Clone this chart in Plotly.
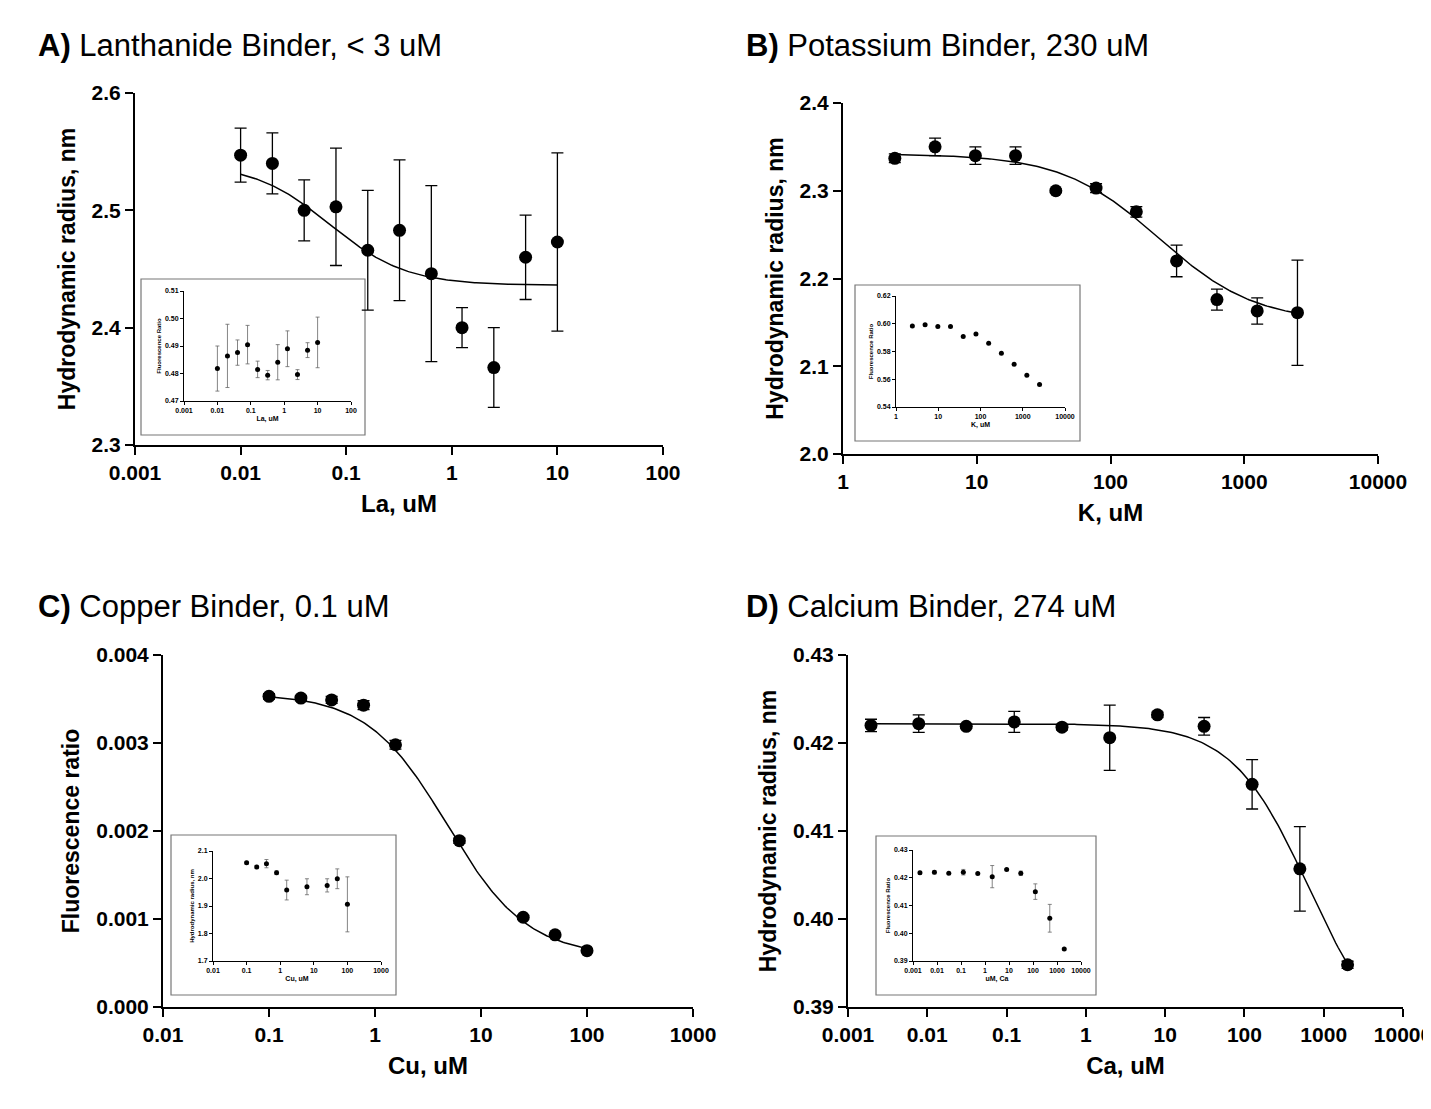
import numpy as np
import plotly.graph_objects as go

W, H = 1431, 1109

# ---- panel A: lanthanide ----
la_x = [0.01, 0.02, 0.04, 0.08, 0.16, 0.32, 0.64, 1.25, 2.5, 5, 10]
la_rh = [2.547, 2.540, 2.500, 2.503, 2.466, 2.483, 2.446, 2.400, 2.366, 2.460, 2.473]
la_rh_err = [0.023, 0.026, 0.026, 0.050, 0.051, 0.060, 0.075, 0.017, 0.034, 0.036, 0.076]
la_fr = [0.4818, 0.4864, 0.4876, 0.4905, 0.4815, 0.4794, 0.4841, 0.4890, 0.4796, 0.4885, 0.4913]
la_fr_err = [0.0082, 0.0115, 0.0046, 0.0070, 0.0030, 0.0017, 0.0064, 0.0065, 0.0018, 0.0027, 0.0092]
la_fit = dict(top=2.540, bottom=2.436, ec50=0.07, hill=1.2)

# ---- panel B: potassium ----
k_x = [2.44, 4.88, 9.77, 19.5, 39, 78, 156, 312, 625, 1250, 2500]
k_rh = [2.337, 2.350, 2.340, 2.340, 2.300, 2.303, 2.276, 2.220, 2.176, 2.163, 2.161]
k_rh_err = [0.005, 0.010, 0.010, 0.010, 0.002, 0.005, 0.006, 0.018, 0.012, 0.015, 0.060]
k_fr = [0.5984, 0.5992, 0.5980, 0.5980, 0.5908, 0.5927, 0.5860, 0.5788, 0.5709, 0.5628, 0.5563]
k_fit = dict(top=2.342, bottom=2.150, ec50=230, hill=1.2)

# ---- panel C: copper ----
cu_x = [0.1, 0.2, 0.39, 0.78, 1.56, 6.25, 25, 50, 100]
cu_fr = [0.00353, 0.00351, 0.00349, 0.00343, 0.00298, 0.00189, 0.00102, 0.00082, 0.00064]
cu_fr_err = [0.00003, 0.00003, 0.00004, 0.00005, 0.00005, 0.00003, 0.00002, 0.00002, 0.00002]
cu_rh = [2.0576, 2.0418, 2.054, 2.0212, 1.958, 1.970, 1.975, 1.999, 1.906]
cu_rh_err = [0.005, 0.006, 0.015, 0.007, 0.036, 0.029, 0.024, 0.036, 0.100]
cu_fit = dict(top=0.00356, bottom=0.00058, ec50=4.8, hill=1.15)

# ---- panel D: calcium ----
ca_x = [0.00195, 0.0078, 0.031, 0.125, 0.5, 2, 8, 31, 125, 500, 2000]
ca_rh = [0.4220, 0.4222, 0.4219, 0.4224, 0.4218, 0.4206, 0.4232, 0.4219, 0.4153, 0.4057, 0.3948]
ca_rh_err = [0.0007, 0.0010, 0.0002, 0.0012, 0.0003, 0.0037, 0.0003, 0.0010, 0.0028, 0.0048, 0.0004]
ca_fr = [0.4218, 0.4220, 0.4216, 0.4220, 0.4215, 0.4204, 0.4230, 0.4216, 0.4150, 0.4054, 0.3943]
ca_fr_err = [0.0005, 0.0006, 0.0003, 0.0010, 0.0003, 0.0040, 0.0003, 0.0008, 0.0028, 0.0050, 0.0003]
ca_fit = dict(top=0.4222, bottom=0.385, ec50=645, hill=0.9)

FONT = "Liberation Sans, Arial, sans-serif"


def px(x0, x1, y0, y1):
    # pixel box -> paper domains
    return [x0 / W, x1 / W], [1 - y1 / H, 1 - y0 / H]


def hill(x, p):
    x = np.asarray(x, dtype=float)
    return p["bottom"] + (p["top"] - p["bottom"]) / (1 + (x / p["ec50"]) ** p["hill"])


fig = go.Figure()
layout = {}


def log_ticks(lo, hi):
    vals = [10.0 ** e for e in range(lo, hi + 1)]
    txt = [("%g" % v) if v >= 1 else ("%." + str(-e) + "f") % v for v, e in zip(vals, range(lo, hi + 1))]
    return vals, txt


def add_panel(n, xs, ys, err, fit, box, xlim, ylim, ydt, yfmt, xtitle, ytitle, inset=False):
    xd, yd = px(*box)
    xa, ya = ("x%d" % n if n > 1 else "x"), ("y%d" % n if n > 1 else "y")
    big = not inset
    ms = 13 if big else 5
    fig.add_trace(go.Scatter(
        x=xs, y=ys, mode="markers", xaxis=xa, yaxis=ya, showlegend=False,
        marker=dict(color="black", size=ms),
        error_y=dict(type="data", array=err, visible=err is not None, color="black" if big else "#666",
                     thickness=1.3 if big else 0.8, width=6 if big else 2),
    ))
    if fit is not None:
        cx = np.logspace(np.log10(xs[0]), np.log10(xs[-1]), 200)
        fig.add_trace(go.Scatter(x=cx, y=hill(cx, fit), mode="lines", xaxis=xa, yaxis=ya, showlegend=False,
                                 line=dict(color="black", width=1.5)))
    tv, tt = log_ticks(*xlim)
    fs = 21 if big else 7
    common = dict(showline=True, linecolor="black", linewidth=2 if big else 1, ticks="outside",
                  ticklen=8 if big else 3, tickwidth=2 if big else 1, tickcolor="black", automargin=False,
                  showgrid=False, zeroline=False, tickfont=dict(size=fs, family=FONT, color="black"))
    layout["xaxis%d" % n if n > 1 else "xaxis"] = dict(
        domain=xd, anchor=ya, type="log", range=[xlim[0], xlim[1]], tickvals=tv,
        ticktext=["<b>%s</b>" % t for t in tt],
        title=dict(text="<b>%s</b>" % xtitle, font=dict(size=24 if big else 7, family=FONT, color="black"),
                   standoff=12 if big else 2), **common)
    yv = list(np.round(np.arange(ylim[0], ylim[1] + ydt / 2, ydt), 6))
    layout["yaxis%d" % n if n > 1 else "yaxis"] = dict(
        domain=yd, anchor=xa, range=ylim, tickvals=yv, ticktext=["<b>%s</b>" % (yfmt % v) for v in yv],
        title=dict(text="<b>%s</b>" % ytitle, font=dict(size=23 if big else 6, family=FONT, color="black"),
                   standoff=10 if big else 2), **common)


add_panel(1, la_x, la_rh, la_rh_err, la_fit, (127, 655, 85, 437), (-3, 2), [2.3, 2.6], 0.1, "%.1f",
          "La, uM", "Hydrodynamic radius, nm")
add_panel(2, la_x, la_fr, la_fr_err, None, (176, 343, 283, 393), (-3, 2), [0.47, 0.51], 0.01, "%.2f",
          "La, uM", "Fluorescence Ratio", inset=True)
add_panel(3, k_x, k_rh, k_rh_err, k_fit, (835, 1370, 95, 446), (0, 4), [2.0, 2.4], 0.1, "%.1f",
          "K, uM", "Hydrodynamic radius, nm")
add_panel(4, k_x, k_fr, None, None, (888, 1057, 288, 399), (0, 4), [0.54, 0.62], 0.02, "%.2f",
          "K, uM", "Fluorescence Ratio", inset=True)
add_panel(5, cu_x, cu_fr, cu_fr_err, cu_fit, (155, 685, 647, 999), (-2, 3), [0.0, 0.004], 0.001, "%.3f",
          "Cu, uM", "Fluorescence ratio")
add_panel(6, cu_x, cu_rh, cu_rh_err, None, (205, 373, 843, 953), (-2, 3), [1.7, 2.1], 0.1, "%.1f",
          "Cu, uM", "Hydrodynamic radius, nm", inset=True)
add_panel(7, ca_x, ca_rh, ca_rh_err, ca_fit, (840, 1395, 647, 999), (-3, 4), [0.39, 0.43], 0.01, "%.2f",
          "Ca, uM", "Hydrodynamic radius, nm")
add_panel(8, ca_x, ca_fr, ca_fr_err, None, (905, 1073, 842, 953), (-3, 4), [0.39, 0.43], 0.01, "%.2f",
          "uM, Ca", "Fluorescence Ratio", inset=True)

# inset frames
shapes = []
for x0, x1, y0, y1 in [(133, 357, 271, 427), (847, 1072, 277, 433), (163, 388, 827, 987), (868, 1088, 828, 987)]:
    shapes.append(dict(type="rect", xref="paper", yref="paper", x0=x0 / W, x1=x1 / W,
                       y0=1 - y1 / H, y1=1 - y0 / H, line=dict(color="#777", width=1.2),
                       fillcolor="rgba(255,255,255,0)", layer="below"))

titles = [("A)", "Lanthanide Binder, < 3 uM", 28, 38), ("B)", "Potassium Binder, 230 uM", 736, 38),
          ("C)", "Copper Binder, 0.1 uM", 28, 598), ("D)", "Calcium Binder, 274 uM", 736, 598)]
annotations = [dict(text="<b>%s</b> %s" % (a, b), x=x / W, y=1 - y / H, xref="paper", yref="paper",
                    xanchor="left", yanchor="middle", showarrow=False,
                    font=dict(size=31, family=FONT, color="black")) for a, b, x, y in titles]

fig.update_layout(width=W, height=H, margin=dict(l=0, r=0, t=0, b=0), plot_bgcolor="white",
                  paper_bgcolor="white", shapes=shapes, annotations=annotations, **layout)
fig.write_html("out.html")
